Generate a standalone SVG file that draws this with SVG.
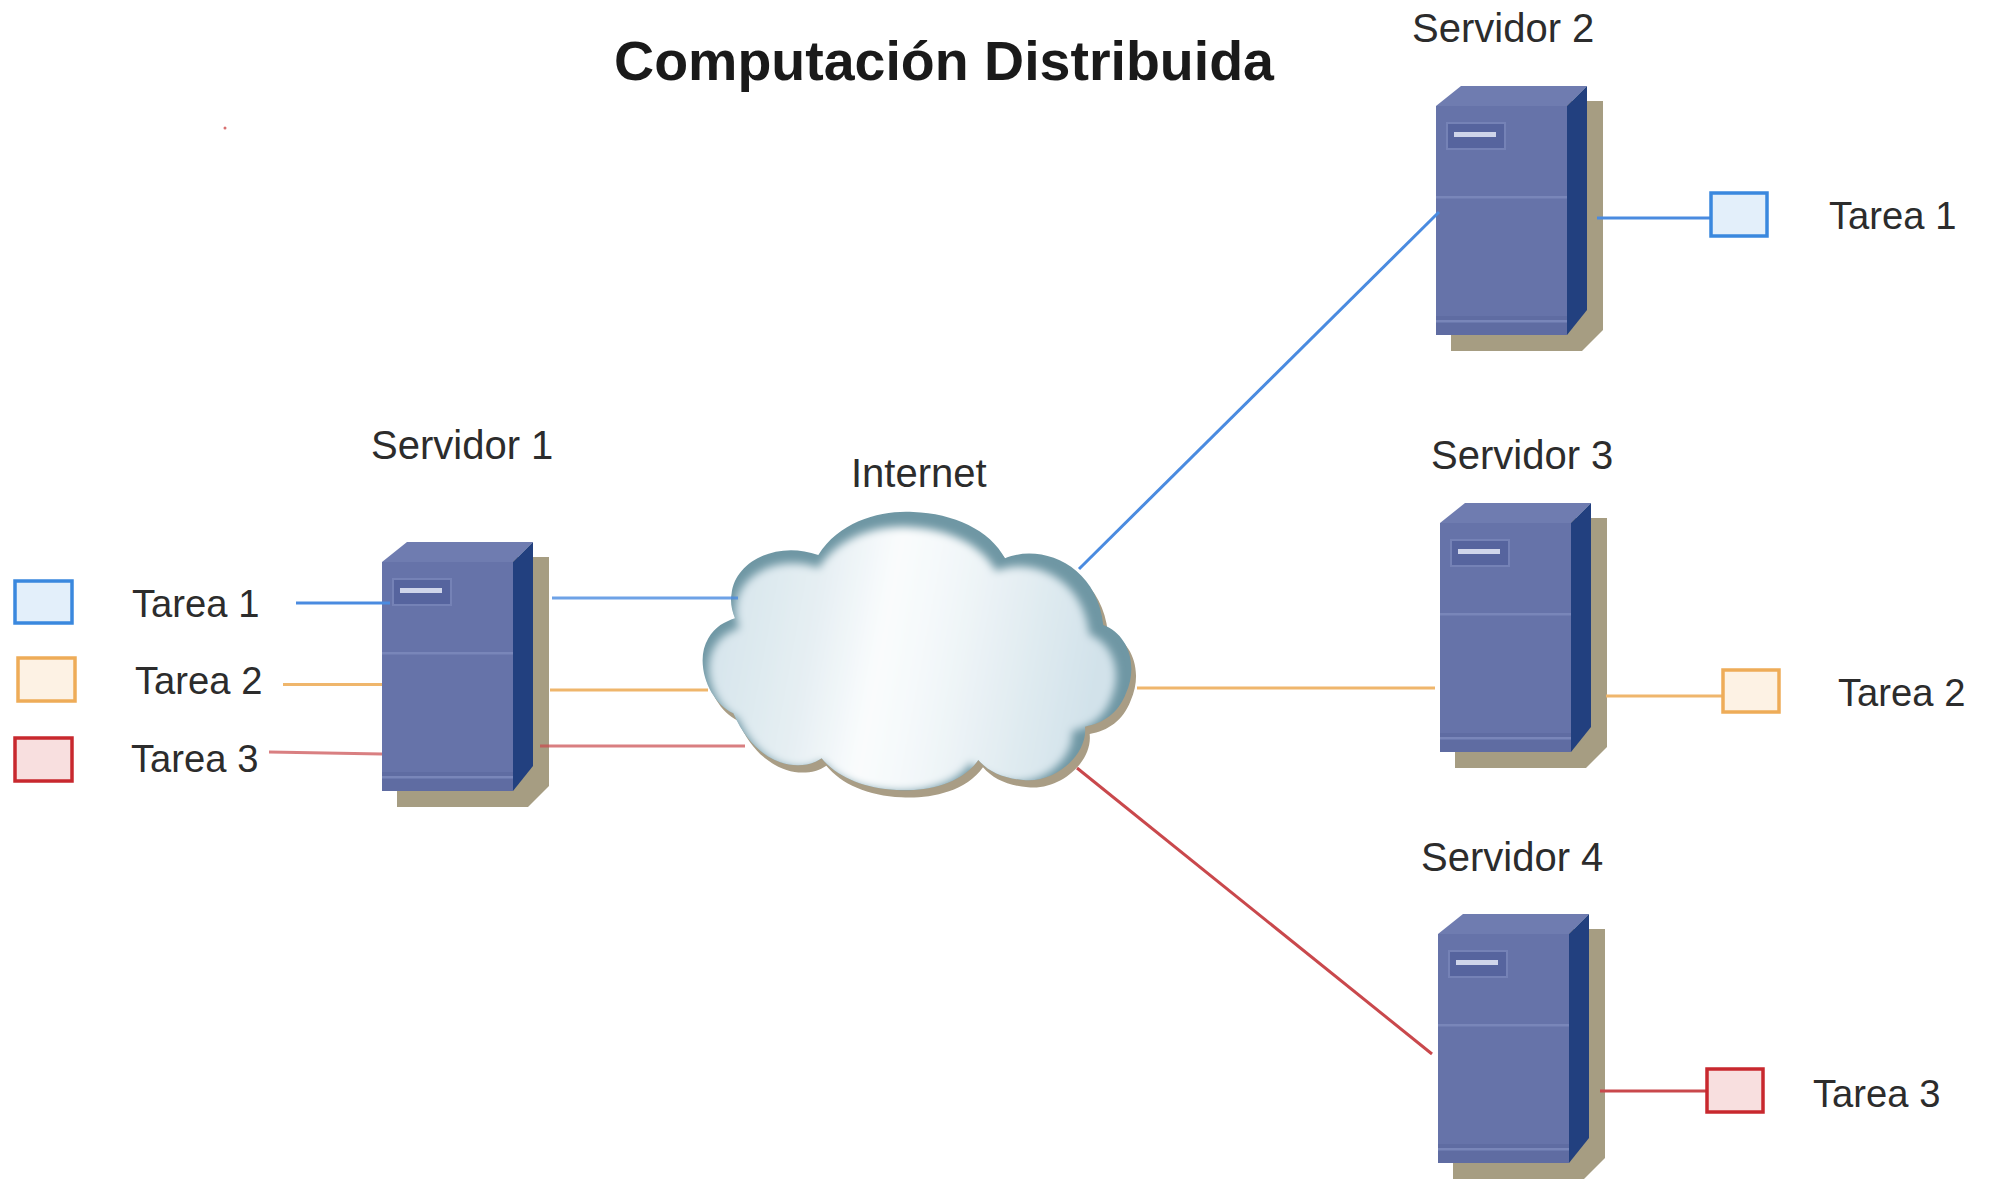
<svg xmlns="http://www.w3.org/2000/svg" xmlns:xlink="http://www.w3.org/1999/xlink" width="1991" height="1181" viewBox="0 0 1991 1181">
<style>
text{font-family:"Liberation Sans",Arial,sans-serif;font-size:38.200px;fill:#2c2c2c}
.s{font-size:40px}
.title{font-size:55.500px;font-weight:bold;fill:#1a1a1a}
.c{fill:none;stroke-width:3}
.b{stroke:#4a8be0}.o{stroke:#efb66c}.r{stroke:#c9484c}
.bb{fill:#e3effa;stroke:#3a88de;stroke-width:3.5}
.ob{fill:#fdf2e4;stroke:#eeac58;stroke-width:3.5}
.rb{fill:#f8dfdf;stroke:#c8282e;stroke-width:3.5}
</style>
<defs>
<linearGradient id="cg" x1="0" y1="0" x2="1" y2="0.12">
<stop offset="0" stop-color="#d2e2ea"/><stop offset="0.3" stop-color="#e6eff3"/><stop offset="0.47" stop-color="#fafcfd"/><stop offset="0.62" stop-color="#f2f7f9"/><stop offset="1" stop-color="#d2e2ea"/>
</linearGradient>
<filter id="bl" x="-10%" y="-10%" width="120%" height="120%"><feGaussianBlur stdDeviation="12"/></filter>
<path id="cp" d="M155 310C165 215 290 150 415 195C480 90 610 60 700 66C820 70 930 120 975 205C1080 160 1250 220 1270 405C1340 430 1378 520 1338 610C1315 670 1270 700 1215 710C1225 790 1130 880 1030 870C970 865 925 845 895 810C840 890 720 905 650 900C550 895 470 860 425 805C360 850 230 830 160 670C90 640 40 520 85 445C105 410 135 395 165 385C155 360 150 335 155 310Z"/>
<clipPath id="cc"><use xlink:href="#cp"/></clipPath>
<g id="srv">
<path d="M397 557H549V786L528 807H397Z" fill="#a69d82"/>
<path d="M382 562L407 542H533L513 562Z" fill="#6f7cb0"/>
<path d="M513 562L533 542V766L513 791Z" fill="#22407f"/>
<rect x="382" y="562" width="131" height="229" fill="#6673a9"/>
<rect x="382" y="772" width="131" height="19" fill="#5f6ca2"/>
<rect x="382" y="652" width="131" height="2.500" fill="#7986b9"/>
<rect x="382" y="776" width="131" height="2.500" fill="#7986b9"/>
<rect x="393" y="579" width="58" height="26" fill="#56649e" stroke="#7582b6" stroke-width="2"/>
<rect x="400" y="588" width="42" height="5" fill="#cfd5ea"/>
</g>
</defs>
<rect width="1991" height="1181" fill="#fff"/>
<text class="title" x="944" y="80" text-anchor="middle">Computación Distribuida</text>
<ellipse cx="225" cy="128" rx="1.500" ry="1.500" fill="#d87070"/>

<g id="servidor1"><use xlink:href="#srv"/><text class="s" x="371" y="459">Servidor 1</text></g>
<g id="servidor2"><use xlink:href="#srv" x="1054" y="-456"/><text class="s" x="1412" y="42">Servidor 2</text></g>
<g id="servidor3"><use xlink:href="#srv" x="1058" y="-39"/><text class="s" x="1431" y="469">Servidor 3</text></g>
<g id="servidor4"><use xlink:href="#srv" x="1056" y="372"/><text class="s" x="1421" y="871">Servidor 4</text></g>

<g id="internet">
<g transform="translate(680 490) scale(.3333)">
<use xlink:href="#cp" x="14" y="22" fill="#a99d85"/>
<use xlink:href="#cp" fill="#6f97a4"/>
<g clip-path="url(#cc)">
<g filter="url(#bl)" transform="translate(-14 24)">
<use xlink:href="#cp" transform="translate(715 490) scale(.95) translate(-715 -490)" fill="url(#cg)"/>
</g>
</g>
</g>
<text class="s" x="851" y="487">Internet</text>
</g>

<g id="connectors">
<path class="c b" d="M296 603H390"/>
<path class="c o" d="M283 684.500H382"/>
<path class="c r" d="M269 752L382 754" opacity=".7"/>
<path class="c b" d="M552 598H738" opacity=".8"/>
<path class="c o" d="M550 690H708"/>
<path class="c r" d="M540 746H745" opacity=".7"/>
<path class="c b" d="M1079 569L1439 212"/>
<path class="c o" d="M1137 688H1435"/>
<path class="c r" d="M1077 768L1432 1054"/>
<path class="c b" d="M1597 218H1710"/>
<path class="c o" d="M1606 696H1723"/>
<path class="c r" d="M1600 1091H1706"/>
</g>

<g id="tarea1-izq"><rect class="bb" x="15" y="581" width="57" height="42"/><text x="132" y="617">Tarea 1</text></g>
<g id="tarea2-izq"><rect class="ob" x="18" y="658" width="57" height="43"/><text x="135" y="694">Tarea 2</text></g>
<g id="tarea3-izq"><rect class="rb" x="15" y="738" width="57" height="43"/><text x="131" y="772">Tarea 3</text></g>
<g id="tarea1-der"><rect class="bb" x="1711" y="193" width="56" height="43"/><text x="1829" y="229">Tarea 1</text></g>
<g id="tarea2-der"><rect class="ob" x="1723" y="670" width="56" height="42"/><text x="1838" y="706">Tarea 2</text></g>
<g id="tarea3-der"><rect class="rb" x="1707" y="1069" width="56" height="43"/><text x="1813" y="1107">Tarea 3</text></g>
</svg>
